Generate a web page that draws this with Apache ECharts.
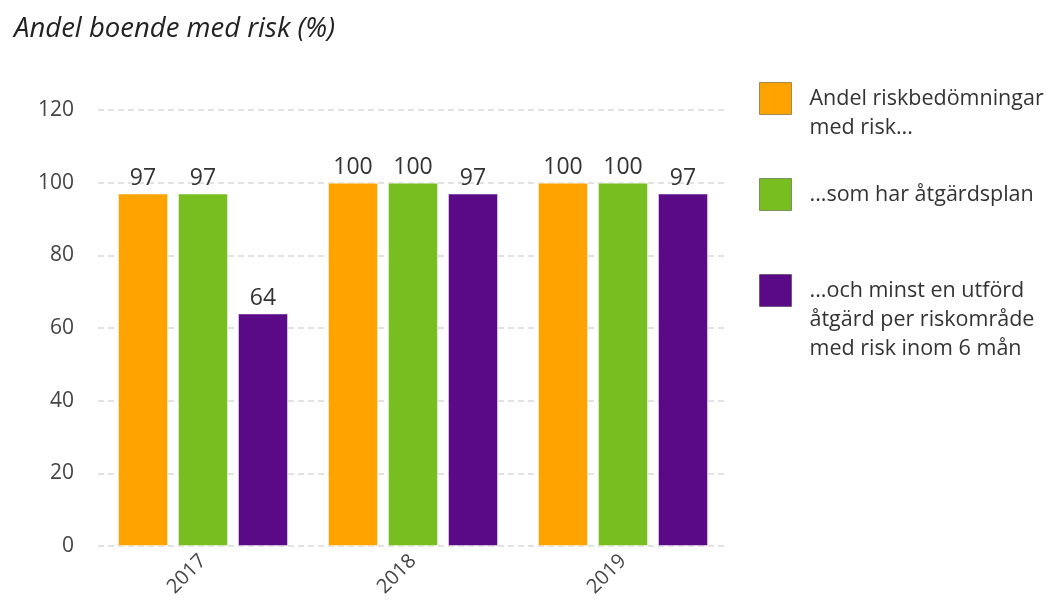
<!DOCTYPE html>
<html>
<head>
<meta charset="utf-8">
<script src="https://cdn.jsdelivr.net/npm/echarts@6/dist/echarts.min.js"></script>
<style>html,body{margin:0;padding:0;background:#fff;}#c{width:1050px;height:603px;}</style>
</head>
<body>
<div id="c"></div>
<script>
const categories = ['2017', '2018', '2019'];
const seriesNames = ['Andel riskbedömningar\nmed risk...', '...som har åtgärdsplan', '...och minst en utförd\nåtgärd per riskområde\nmed risk inom 6 mån'];
const riskAssessments = [97, 100, 100];
const withActionPlan = [97, 100, 100];
const withAction = [64, 97, 97];
const colors = ['#FFA300', '#78BE21', '#5B0A87'];
const yTicks = [0, 20, 40, 60, 80, 100, 120];

const chart = echarts.init(document.getElementById('c'));
const font = 'Open Sans';
const lh = 29;
function legendFor(i, top) {
  const lines = seriesNames[i].split('\n').length;
  return {
    data: [seriesNames[i]],
    left: 759, top: top, padding: 0,
    orient: 'vertical',
    itemWidth: 32, itemHeight: 32,
    icon: 'rect',
    itemStyle: { borderColor: 'rgba(0,0,0,0.35)', borderWidth: 1 },
    formatter: name => '\n'.repeat(lines - 1) + name,
    textStyle: { fontFamily: font, fontSize: 21.5, color: '#333', lineHeight: lh, padding: [0, 0, 0, 13] },
    selectedMode: false
  };
}
const vals = [riskAssessments, withActionPlan, withAction];
chart.setOption({
  animation: false,
  title: {
    text: 'Andel boende med risk (%)',
    left: 9, top: 11,
    textStyle: { fontFamily: font, fontStyle: 'italic', fontWeight: 'normal', fontSize: 27.5, color: '#222' }
  },
  legend: [legendFor(0, 55), legendFor(1, 178), legendFor(2, 218)],
  grid: { left: 98, right: 322, top: 110, bottom: 57 },
  xAxis: {
    type: 'category', data: categories,
    axisLine: { show: false }, axisTick: { show: false },
    axisLabel: { rotate: 45, margin: 12, fontFamily: font, fontSize: 20, color: '#444' }
  },
  yAxis: {
    type: 'value', min: 0, max: 120, interval: 20,
    axisLabel: { margin: 24, fontFamily: font, fontSize: 21, color: '#444',
      formatter: v => yTicks.includes(v) ? String(v) : '' },
    splitLine: { lineStyle: { type: [6, 4], color: '#d9d9d9', width: 1.5 } }
  },
  series: vals.map((d, i) => ({
    name: seriesNames[i], type: 'bar', data: d,
    barWidth: 50, barGap: '20%',
    itemStyle: { color: colors[i], borderColor: 'rgba(255,255,255,0.45)', borderWidth: 1 },
    label: { show: true, position: 'top', distance: 4, fontFamily: font, fontSize: 23, color: '#333' }
  }))
});
</script>
</body>
</html>
